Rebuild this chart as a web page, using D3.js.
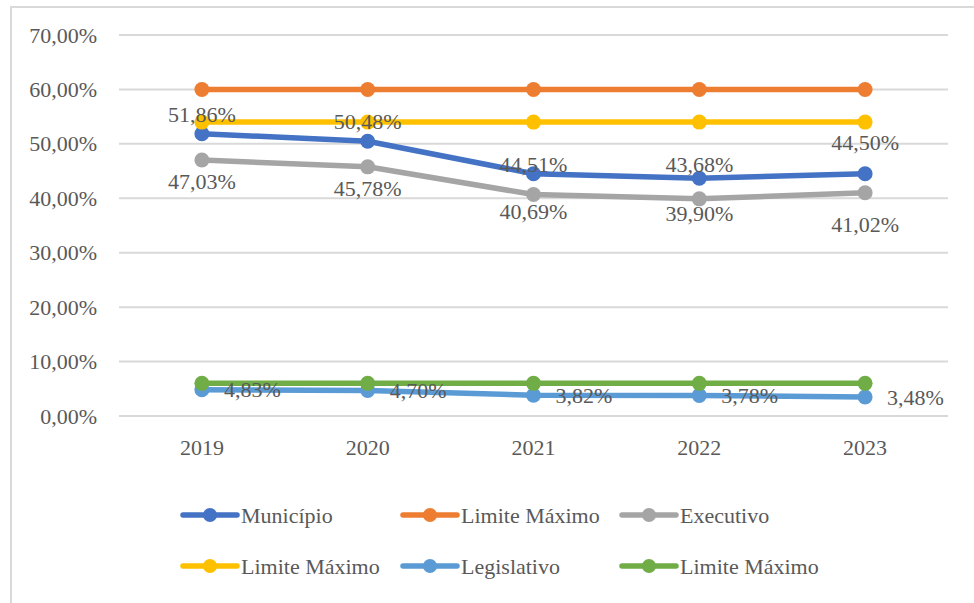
<!DOCTYPE html>
<html>
<head>
<meta charset="utf-8">
<script src="https://cdn.jsdelivr.net/npm/d3@7"></script>
<style>
  html, body { margin: 0; padding: 0; background: #fff; }
  svg { display: block; }
</style>
</head>
<body>
<svg id="chart" width="974" height="603" font-family="'Liberation Serif', 'DejaVu Serif', serif"></svg>
<script>
const years = ["2019", "2020", "2021", "2022", "2023"];
const municipio = [51.86, 50.48, 44.51, 43.68, 44.50];
const limiteMunicipio = [60, 60, 60, 60, 60];
const executivo = [47.03, 45.78, 40.69, 39.90, 41.02];
const limiteExecutivo = [54, 54, 54, 54, 54];
const legislativo = [4.83, 4.70, 3.82, 3.78, 3.48];
const limiteLegislativo = [6, 6, 6, 6, 6];
const yTicks = [0, 10, 20, 30, 40, 50, 60, 70];
const seriesNames = ["Município", "Limite Máximo", "Executivo", "Limite Máximo", "Legislativo", "Limite Máximo"];
const seriesColors = ["#4472C4", "#ED7D31", "#A5A5A5", "#FFC000", "#5B9BD5", "#70AD47"];

// label layout (pixel nudges, not data)
const municipioLabelDy = [-19, -20, -9, -14, -31];
const executivoLabelDy = [21, 22, 17, 15, 32];

const series = [municipio, limiteMunicipio, executivo, limiteExecutivo, legislativo, limiteLegislativo]
  .map((vals, i) => ({ name: seriesNames[i], color: seriesColors[i], values: vals }));

const fmt = v => d3.format(".2f")(v).replace(".", ",") + "%";
const textColor = "#595959";
const fontSize = 22;

const svg = d3.select("#chart");

// outer frame: left and top edges only visible
svg.append("line").attr("x1", 11).attr("x2", 11).attr("y1", 6).attr("y2", 603)
  .attr("stroke", "#D9D9D9").attr("stroke-width", 2);
svg.append("line").attr("x1", 10).attr("x2", 974).attr("y1", 7).attr("y2", 7)
  .attr("stroke", "#D9D9D9").attr("stroke-width", 2);

const x = d3.scalePoint().domain(years).range([119, 948]).padding(0.5);
const y = d3.scaleLinear().domain([0, 70]).range([416, 35]);

// gridlines
svg.append("g").selectAll("line").data(yTicks).join("line")
  .attr("x1", 119).attr("x2", 948)
  .attr("y1", d => y(d)).attr("y2", d => y(d))
  .attr("stroke", "#D9D9D9").attr("stroke-width", 2);

// y axis labels
svg.append("g").selectAll("text").data(yTicks).join("text")
  .attr("x", 97).attr("y", d => y(d))
  .attr("text-anchor", "end").attr("dominant-baseline", "central")
  .attr("font-size", fontSize).attr("fill", textColor)
  .text(d => d3.format(".2f")(d).replace(".", ",") + "%");

// x axis labels
svg.append("g").selectAll("text").data(years).join("text")
  .attr("x", d => x(d)).attr("y", 447)
  .attr("text-anchor", "middle").attr("dominant-baseline", "central")
  .attr("font-size", fontSize).attr("fill", textColor)
  .text(d => d);

// lines and markers
const line = d3.line().x((d, i) => x(years[i])).y(d => y(d));
const gSeries = svg.append("g");
series.forEach(s => {
  const g = gSeries.append("g");
  g.append("path").datum(s.values).attr("d", line)
    .attr("fill", "none").attr("stroke", s.color).attr("stroke-width", 5.5)
    .attr("stroke-linejoin", "round").attr("stroke-linecap", "round");
  g.selectAll("circle").data(s.values).join("circle")
    .attr("cx", (d, i) => x(years[i])).attr("cy", d => y(d)).attr("r", 7.5)
    .attr("fill", s.color);
});

// data labels
const gLab = svg.append("g").attr("font-size", fontSize).attr("fill", textColor);
gLab.selectAll("text.mun").data(municipio).join("text").attr("class", "mun")
  .attr("x", (d, i) => x(years[i])).attr("y", (d, i) => y(d) + municipioLabelDy[i])
  .attr("text-anchor", "middle").attr("dominant-baseline", "central")
  .text(fmt);
gLab.selectAll("text.exe").data(executivo).join("text").attr("class", "exe")
  .attr("x", (d, i) => x(years[i])).attr("y", (d, i) => y(d) + executivoLabelDy[i])
  .attr("text-anchor", "middle").attr("dominant-baseline", "central")
  .text(fmt);
gLab.selectAll("text.leg").data(legislativo).join("text").attr("class", "leg")
  .attr("x", (d, i) => x(years[i]) + 22).attr("y", d => y(d))
  .attr("text-anchor", "start").attr("dominant-baseline", "central")
  .text(fmt);

// legend
const legendCols = [183, 403, 622];
const legendRows = [515, 566];
const gLeg = svg.append("g");
series.forEach((s, i) => {
  const lx = legendCols[i % 3], ly = legendRows[Math.floor(i / 3)];
  const g = gLeg.append("g").attr("transform", `translate(${lx},${ly})`);
  g.append("line").attr("x1", 0).attr("x2", 54).attr("y1", 0).attr("y2", 0)
    .attr("stroke", s.color).attr("stroke-width", 5.5).attr("stroke-linecap", "round");
  g.append("circle").attr("cx", 27).attr("cy", 0).attr("r", 7).attr("fill", s.color);
  g.append("text").attr("x", 58).attr("y", 0).attr("dominant-baseline", "central")
    .attr("font-size", fontSize).attr("fill", textColor).text(s.name);
});
</script>
</body>
</html>
